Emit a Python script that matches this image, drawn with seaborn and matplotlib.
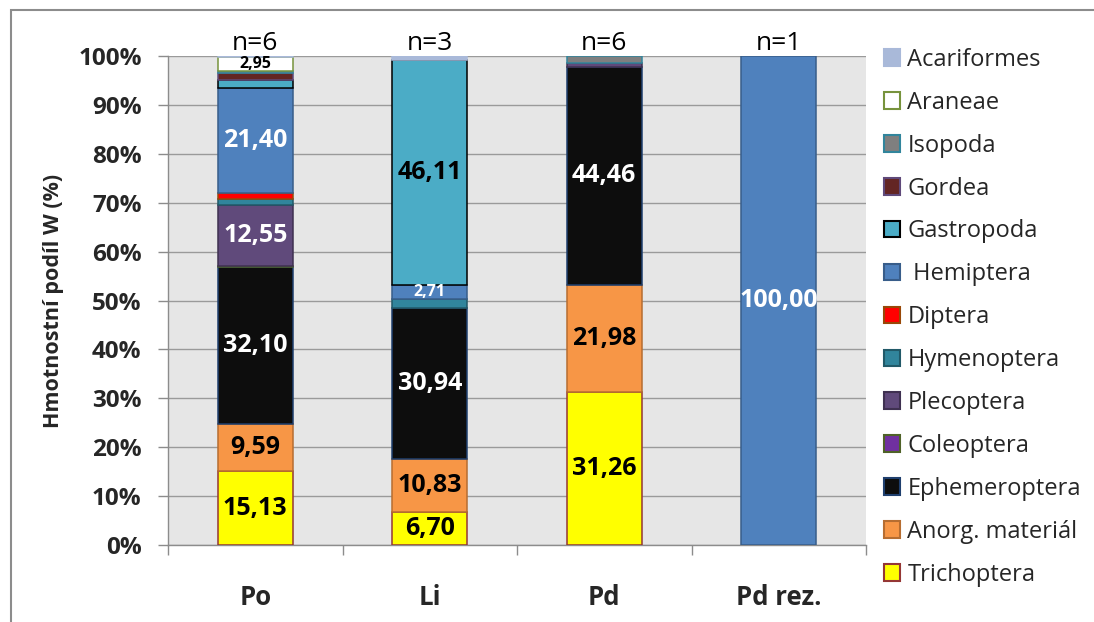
import numpy as np
import pandas as pd
import matplotlib
matplotlib.use("Agg")
import matplotlib.pyplot as plt
from matplotlib.patches import Rectangle
import seaborn as sns

# Sites (x categories) and sample sizes
sites = ["Po", "Li", "Pd", "Pd rez."]
n_counts = [6, 3, 6, 1]

# Weight share (%) of each food component per site, stacked bottom -> top
taxa = ["Trichoptera", "Anorg. materiál", "Ephemeroptera", "Coleoptera",
        "Plecoptera", "Hymenoptera", "Diptera", " Hemiptera", "Gastropoda",
        "Gordea", "Isopoda", "Araneae", "Acariformes"]
trichoptera   = [15.13, 6.70, 31.26, 0.0]
anorg         = [9.59, 10.83, 21.98, 0.0]
ephemeroptera = [32.10, 30.94, 44.46, 0.0]
coleoptera    = [0.20, 0.0, 0.0, 0.0]
plecoptera    = [12.55, 0.0, 0.80, 0.0]
hymenoptera   = [1.20, 1.90, 0.0, 0.0]
diptera       = [1.20, 0.0, 0.0, 0.0]
hemiptera     = [21.40, 2.71, 0.0, 100.00]
gastropoda    = [1.70, 46.11, 0.0, 0.0]
gordea        = [1.40, 0.0, 0.0, 0.0]
isopoda       = [0.38, 0.0, 1.50, 0.0]
araneae       = [2.95, 0.0, 0.0, 0.0]
acariformes   = [0.20, 0.81, 0.0, 0.0]

values = [trichoptera, anorg, ephemeroptera, coleoptera, plecoptera,
          hymenoptera, diptera, hemiptera, gastropoda, gordea, isopoda,
          araneae, acariformes]

face = ["#FFFF00", "#F79646", "#0D0D0D", "#7030A0", "#604A7B", "#31859C",
        "#FF0000", "#4F81BD", "#4BACC6", "#632523", "#7F7F7F", "#FFFFFF",
        "#A9B9D9"]
edge = ["#953735", "#B66D31", "#1F3F6E", "#4F6228", "#3F3151", "#215968",
        "#984807", "#385D8A", "#000000", "#5F497A", "#31859C", "#77933C",
        "#A9B9D9"]
label_color = {"Trichoptera": "black", "Anorg. materiál": "black",
               "Ephemeroptera": "white", "Plecoptera": "white",
               " Hemiptera": "white", "Gastropoda": "black",
               "Araneae": "black"}

sns.set_style("white")
plt.rcParams["font.family"] = ["Open Sans", "DejaVu Sans"]

fig = plt.figure(figsize=(10.94, 6.22), dpi=100)
ax = fig.add_axes([168 / 1094, 1 - 545 / 622, (866 - 168) / 1094, (545 - 56) / 622])
ax.set_facecolor("#E6E6E6")

bar_w = 0.43
bottom = np.zeros(len(sites))
for name, vals, fc, ec in zip(taxa, values, face, edge):
    vals = np.asarray(vals, dtype=float)
    df = pd.DataFrame({"site": sites, "value": vals, "bottom": bottom.copy()})
    sub = df[df["value"] > 0]
    if len(sub):
        sns.barplot(data=sub, x="site", y="value", order=sites, ax=ax,
                    color=fc, saturation=1, width=bar_w, errorbar=None,
                    bottom=sub["bottom"].to_numpy(), edgecolor=ec,
                    linewidth=1.1, zorder=3)
    for i, v in enumerate(vals):
        if v >= 2.5:
            small = v < 5
            ax.text(i, bottom[i] + v / 2, f"{v:.2f}".replace(".", ","),
                    ha="center", va="center", fontweight="bold",
                    fontsize=11.5 if small else 18,
                    color=label_color.get(name, "black"), zorder=5)
    bottom += vals

# sample size above each column
for i, n in enumerate(n_counts):
    ax.text(i, 100.0, f"n={n}", ha="center", va="bottom", fontsize=19,
            color="black", clip_on=False)

ax.set_ylim(0, 100)
ax.set_xlim(-0.5, len(sites) - 0.5)
ax.set_yticks(np.arange(0, 101, 10))
ax.set_yticklabels([f"{t}%" for t in range(0, 101, 10)],
                   fontweight="bold", fontsize=17.5)
ax.yaxis.grid(True, color="#9A9A9A", linewidth=1.0, zorder=0)
ax.set_axisbelow(True)
ax.tick_params(axis="y", length=7, width=1, color="#8C8C8C", pad=12, left=True)

ax.set_xticks(range(len(sites)))
ax.set_xticklabels(sites, fontweight="bold", fontsize=18.5)
ax.set_xticks(np.arange(-0.5, len(sites), 1), minor=True)
ax.tick_params(axis="x", which="major", length=0, pad=28)
ax.tick_params(axis="x", which="minor", length=7, width=1, color="#8C8C8C",
               bottom=True)
ax.set_xlabel("")
ax.set_ylabel("Hmotnostní podíl W (%)", fontweight="bold", fontsize=15.5,
              labelpad=10)

for s in ["top", "right"]:
    ax.spines[s].set_visible(False)
for s in ["left", "bottom"]:
    ax.spines[s].set_color("#8C8C8C")
    ax.spines[s].set_linewidth(1.0)

# legend, top entry = top of the stack
handles = [Rectangle((0, 0), 1, 1, facecolor=fc, edgecolor=ec, linewidth=1.5)
           for fc, ec in zip(face, edge)][::-1]
ax.legend(handles, taxa[::-1], loc="upper left", bbox_to_anchor=(1.012, 1.036),
          frameon=False, fontsize=17, handlelength=0.7, handleheight=0.7,
          handletextpad=0.3, labelspacing=0.8, borderaxespad=0)

# chart frame
fig.add_artist(Rectangle((11 / 1094, -0.1), 1.2, 1 - 10 / 622 + 0.1,
                         transform=fig.transFigure, fill=False,
                         edgecolor="#8C8C8C", linewidth=1.5))

fig.savefig("out.png", dpi=100)
